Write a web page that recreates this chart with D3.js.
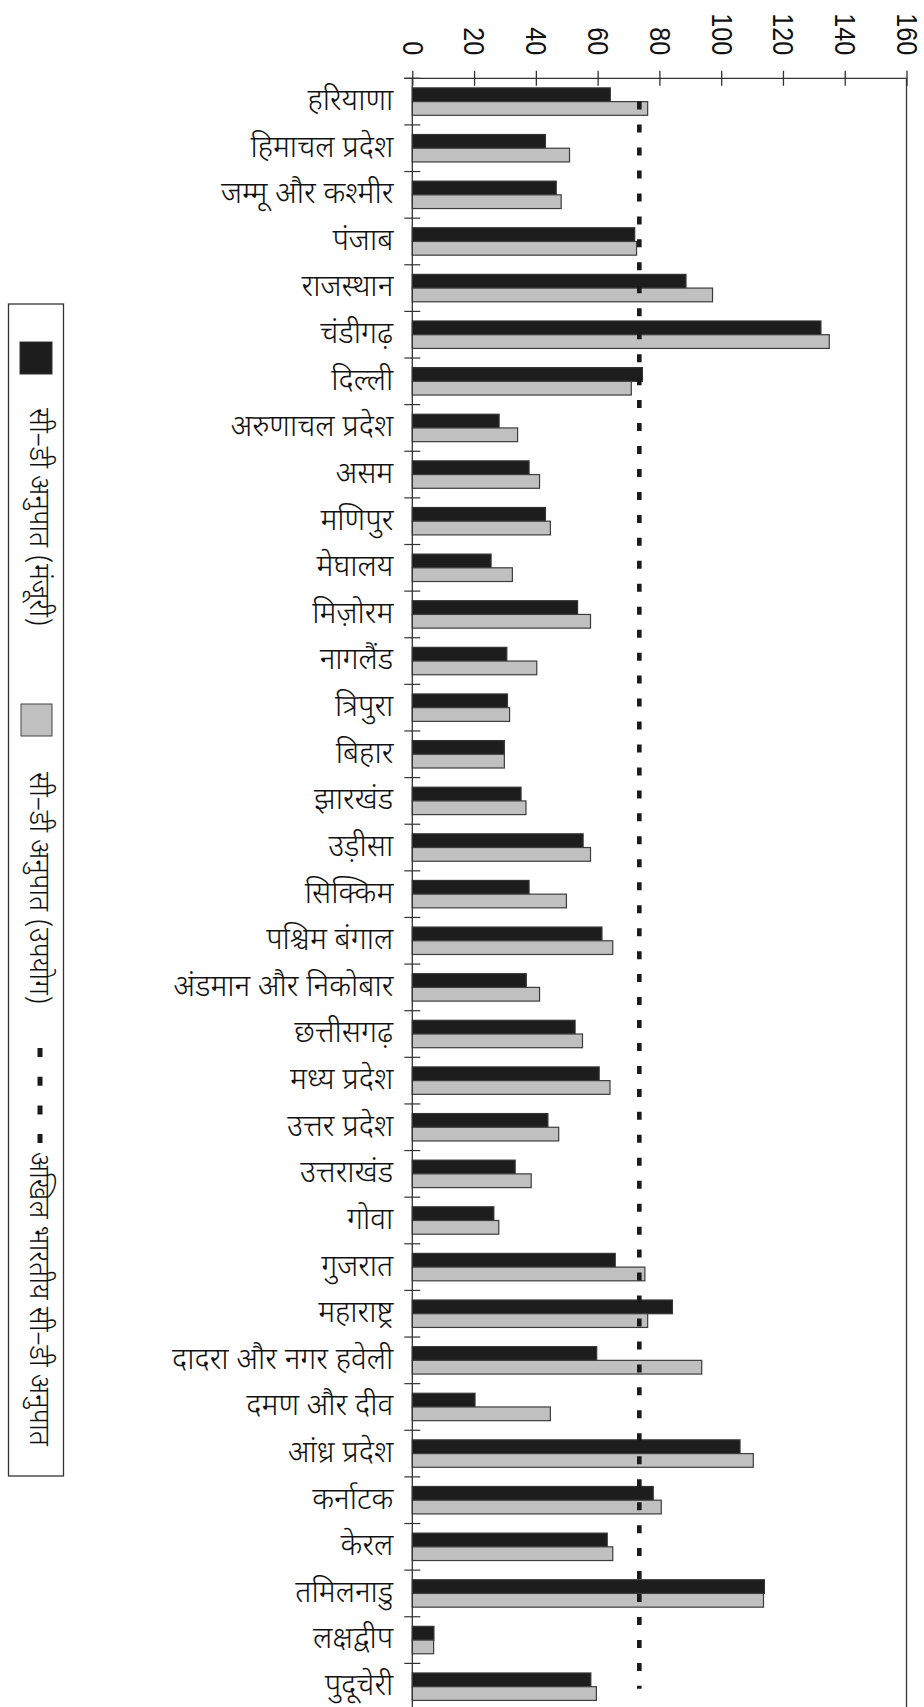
<!DOCTYPE html>
<html>
<head>
<meta charset="utf-8">
<script src="https://cdn.jsdelivr.net/npm/d3@7"></script>
<style>
  html, body { margin: 0; padding: 0; background: #fff; }
  svg { display: block; }
  .cat text { font-family: "Noto Sans Devanagari", "Noto Sans", sans-serif; font-size: 30px; font-weight: 300; fill: #111; }
  .xaxis text { font-family: "Liberation Sans", Arial, sans-serif; font-size: 29px; fill: #111; }
  .legend text { font-family: "Noto Sans Devanagari", "Noto Sans", sans-serif; font-size: 28px; font-weight: 300; fill: #111; }
</style>
</head>
<body>
<div id="app"></div>
<script>
// राज्य / संघ राज्य क्षेत्र
const categories = [
  'हरियाणा', 'हिमाचल प्रदेश', 'जम्मू और कश्मीर', 'पंजाब', 'राजस्थान', 'चंडीगढ़', 'दिल्ली',
  'अरुणाचल प्रदेश', 'असम', 'मणिपुर', 'मेघालय', 'मिज़ोरम', 'नागलैंड', 'त्रिपुरा',
  'बिहार', 'झारखंड', 'उड़ीसा', 'सिक्किम', 'पश्चिम बंगाल', 'अंडमान और निकोबार',
  'छत्तीसगढ़', 'मध्य प्रदेश', 'उत्तर प्रदेश', 'उत्तराखंड',
  'गोवा', 'गुजरात', 'महाराष्ट्र', 'दादरा और नगर हवेली', 'दमण और दीव',
  'आंध्र प्रदेश', 'कर्नाटक', 'केरल', 'तमिलनाडु', 'लक्षद्वीप', 'पुदूचेरी'
];

// सी-डी अनुपात (मंजूरी)
const sanction = [
  64.1, 43.1, 46.6, 72.0, 88.6, 132.3, 74.5,
  28.1, 37.8, 43.1, 25.5, 53.5, 30.6, 30.8,
  29.8, 35.2, 55.3, 37.8, 61.4, 36.9,
  52.7, 60.5, 43.9, 33.3,
  26.4, 65.7, 84.2, 59.7, 20.3,
  106.1, 78.0, 63.1, 114.0, 7.0, 57.8
];

// सी-डी अनुपात (उपयोग)
const utilization = [
  76.2, 50.9, 48.2, 72.6, 97.2, 135.0, 70.9,
  34.1, 41.2, 44.7, 32.4, 57.7, 40.3, 31.5,
  29.8, 36.8, 57.7, 49.9, 64.9, 41.2,
  55.1, 64.0, 47.4, 38.5,
  28.0, 75.3, 76.2, 93.7, 44.7,
  110.4, 80.6, 64.9, 113.7, 6.9, 59.6
];

// अखिल भारतीय सी-डी अनुपात
const allIndia = 73.5;

const xTicks = [0, 20, 40, 60, 80, 100, 120, 140, 160];
const seriesKeys = ['sanction', 'utilization'];
const legendLabels = ['सी–डी अनुपात (मंजूरी)', 'सी–डी अनुपात (उपयोग)', 'अखिल भारतीय सी–डी अनुपात'];

const W = 924, H = 1707;
const plot = { left: 412.3, right: 906.5, top: 78.3, step: 46.62 };

const svg = d3.select('#app')
  .append('svg')
    .attr('width', W)
    .attr('height', H);

svg.append('rect').attr('width', W).attr('height', H).attr('fill', '#fff');

const x = d3.scaleLinear().domain([0, 160]).range([plot.left, plot.right]);
const y = d3.scaleBand()
  .domain(categories)
  .range([plot.top, plot.top + plot.step * categories.length]);
const bw = y.bandwidth();
const yInner = d3.scaleBand().domain(seriesKeys).range([bw * 0.206, bw * 0.794]);

const rows = categories.map((c, i) => ({ c, sanction: sanction[i], utilization: utilization[i] }));

// बार
const colors = { sanction: '#1d1d1d', utilization: '#c0c0c0' };
const strokes = { sanction: '#333', utilization: '#3c3c3c' };

svg.append('g')
  .selectAll('g')
  .data(rows)
  .join('g')
    .attr('transform', d => `translate(0,${y(d.c)})`)
  .selectAll('rect')
  .data(d => seriesKeys.map(k => ({ k, v: d[k] })))
  .join('rect')
    .attr('x', x(0))
    .attr('y', d => yInner(d.k))
    .attr('width', d => x(d.v) - x(0))
    .attr('height', yInner.bandwidth())
    .attr('fill', d => colors[d.k])
    .attr('stroke', d => strokes[d.k])
    .attr('stroke-width', 1.2);

// ऊपर की धुरी
const xAxis = svg.append('g')
  .attr('class', 'xaxis')
  .attr('transform', `translate(0,${plot.top})`)
  .call(d3.axisTop(x).tickValues(xTicks).tickSizeOuter(0).tickSizeInner(7.5));

xAxis.select('.domain').remove();
xAxis.append('line')
  .attr('x1', plot.left - 8).attr('x2', plot.right)
  .attr('stroke', '#333').attr('stroke-width', 1.3);
xAxis.selectAll('.tick line')
  .attr('y1', -7.5).attr('y2', 7.5)
  .attr('stroke', '#333').attr('stroke-width', 1.3);
xAxis.selectAll('.tick text')
  .attr('x', 0).attr('y', 0).attr('dy', '0.35em')
  .attr('transform', 'translate(0,-23) rotate(90) scale(0.87,1)')
  .style('text-anchor', 'end');

// बाईं धुरी और दाईं सीमा
svg.append('line')
  .attr('x1', x(0)).attr('x2', x(0))
  .attr('y1', plot.top).attr('y2', H)
  .attr('stroke', '#333').attr('stroke-width', 1.3);
svg.append('line')
  .attr('x1', x(160)).attr('x2', x(160))
  .attr('y1', plot.top).attr('y2', H)
  .attr('stroke', '#333').attr('stroke-width', 1.3);

svg.append('g')
  .selectAll('line')
  .data(categories)
  .join('line')
    .attr('x1', x(0) - 8).attr('x2', x(0) + 8)
    .attr('y1', d => y(d)).attr('y2', d => y(d))
    .attr('stroke', '#333').attr('stroke-width', 1.2);

const yAxis = svg.append('g')
  .attr('class', 'cat')
  .attr('transform', `translate(${x(0)},0)`)
  .call(d3.axisLeft(y).tickSize(0).tickPadding(19));
yAxis.select('.domain').remove();
yAxis.selectAll('.tick text').attr('dy', '0.28em');

// अखिल भारतीय रेखा
svg.append('line')
  .attr('x1', x(allIndia)).attr('x2', x(allIndia))
  .attr('y1', y(categories[0]) + bw / 2)
  .attr('y2', y(categories[categories.length - 1]) + bw / 2 + 2)
  .attr('stroke', '#1a1a1a')
  .attr('stroke-width', 4.6)
  .attr('stroke-dasharray', '8,14.96');

// लेजेंड
const lg = svg.append('g').attr('class', 'legend');
lg.append('rect')
  .attr('x', 8.5).attr('y', 304).attr('width', 55).attr('height', 1172)
  .attr('fill', '#fff').attr('stroke', '#333').attr('stroke-width', 1.3);

lg.append('rect')
  .attr('x', 20).attr('y', 342).attr('width', 32).attr('height', 32)
  .attr('fill', colors.sanction).attr('stroke', '#333');
lg.append('rect')
  .attr('x', 21).attr('y', 704).attr('width', 31).attr('height', 32)
  .attr('fill', colors.utilization).attr('stroke', '#444');
lg.append('line')
  .attr('x1', 40).attr('x2', 40).attr('y1', 1048).attr('y2', 1143)
  .attr('stroke', '#1a1a1a').attr('stroke-width', 5)
  .attr('stroke-dasharray', '9,19.7');

const legendStarts = [408, 772, 1152];
lg.selectAll('text')
  .data(legendLabels)
  .join('text')
    .attr('transform', (d, i) => `translate(38,${legendStarts[i]}) rotate(90)`)
    .attr('dy', '0.30em')
    .text(d => d);
</script>
</body>
</html>
